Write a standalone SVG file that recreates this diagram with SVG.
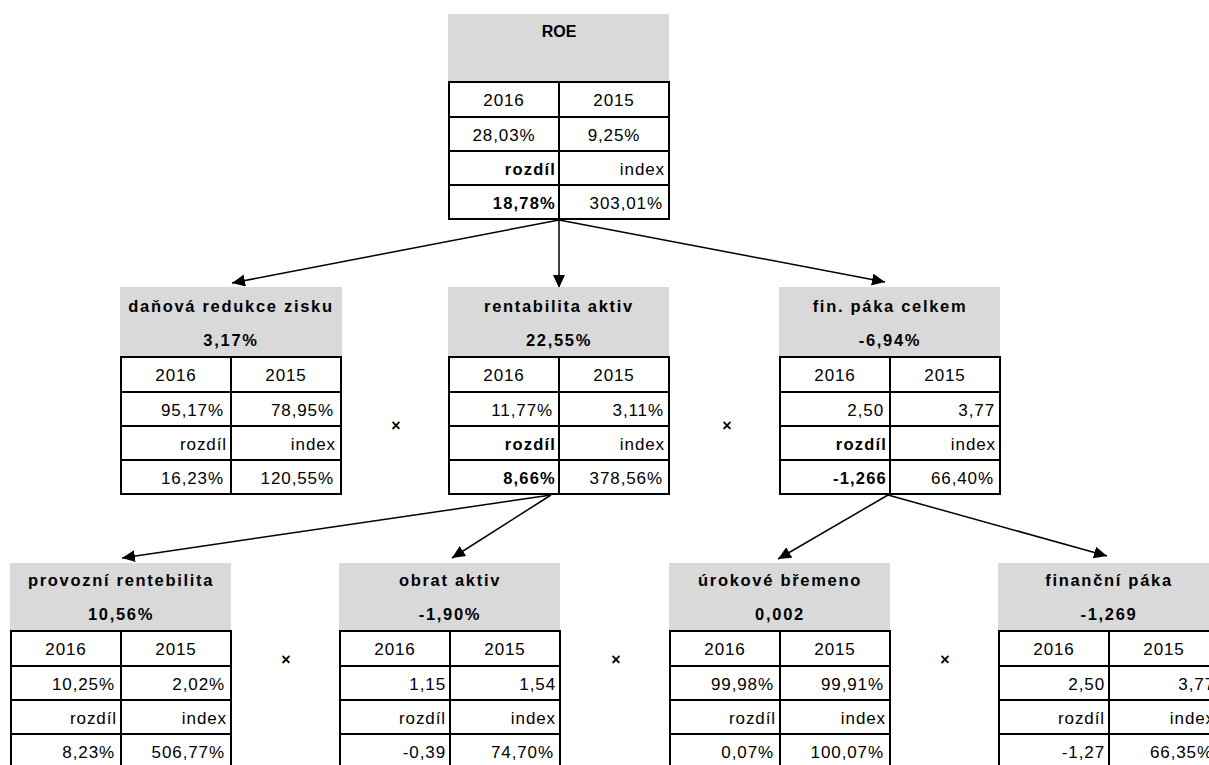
<svg xmlns="http://www.w3.org/2000/svg" width="1209" height="765" viewBox="0 0 1209 765">
  <defs>
    <style>
      .hdr { fill: #d9d9d9; }
      .grid { fill: #ffffff; stroke: #000000; stroke-width: 2; }
      .ln { stroke: #000000; stroke-width: 2; }
      text { font-family: "Liberation Sans", Arial, sans-serif; font-size: 17px; fill: #000000; }
      .t { font-weight: bold; font-size: 16.5px; letter-spacing: 1.7px; text-anchor: middle; }
      .roe { font-weight: bold; font-size: 16px; text-anchor: middle; }
      .c { text-anchor: middle; letter-spacing: 0.9px; }
      .r { text-anchor: end; letter-spacing: 0.9px; }
      .b { font-weight: bold; font-size: 16.5px; letter-spacing: 1.2px; }
      .x { font-weight: bold; font-size: 16px; text-anchor: middle; }
      .arrow { stroke: #000000; stroke-width: 1.5; fill: none; marker-end: url(#head); }
    </style>
    <marker id="head" markerUnits="userSpaceOnUse" markerWidth="14" markerHeight="12" refX="13" refY="6" orient="auto">
      <path d="M0,0 L13,6 L0,12 Z" fill="#000000"/>
    </marker>
    <!-- table body: 2 columns x 4 rows -->
    <g id="tbl">
      <rect class="grid" x="0" y="0" width="220" height="137"/>
      <line class="ln" x1="110" y1="0" x2="110" y2="137"/>
      <line class="ln" x1="0" y1="35" x2="220" y2="35"/>
      <line class="ln" x1="0" y1="69" x2="220" y2="69"/>
      <line class="ln" x1="0" y1="103" x2="220" y2="103"/>
    </g>
  </defs>

  <rect width="1209" height="765" fill="#ffffff"/>

  <!-- connectors -->
  <g id="connectors">
    <line class="arrow" x1="559" y1="220" x2="232" y2="283"/>
    <line class="arrow" x1="559" y1="220" x2="559" y2="288"/>
    <line class="arrow" x1="559" y1="220" x2="885" y2="282"/>
    <line class="arrow" x1="551" y1="495" x2="122" y2="558"/>
    <line class="arrow" x1="551" y1="495" x2="452" y2="558"/>
    <line class="arrow" x1="888" y1="495" x2="778" y2="559"/>
    <line class="arrow" x1="888" y1="495" x2="1107" y2="556"/>
  </g>

  <!-- ROE -->
  <g id="node-roe" transform="translate(449,82)">
    <rect class="hdr" x="-1" y="-68" width="221" height="68"/>
    <text class="roe" x="110" y="-45">ROE</text>
    <use href="#tbl"/>
    <text class="c" x="55" y="24">2016</text>
    <text class="c" x="165" y="24">2015</text>
    <text class="c" x="55" y="58.5">28,03%</text>
    <text class="c" x="165" y="58.5">9,25%</text>
    <text class="r b" x="107" y="92.5">rozdíl</text>
    <text class="r" x="216" y="92.5">index</text>
    <text class="r b" x="107" y="126.5">18,78%</text>
    <text class="r" x="214" y="126.5">303,01%</text>
  </g>

  <!-- daňová redukce zisku -->
  <g id="node-danova" transform="translate(121,357)">
    <rect class="hdr" x="-1" y="-70" width="222" height="70"/>
    <text class="t" x="110" y="-45">daňová redukce zisku</text>
    <text class="t" x="110" y="-11">3,17%</text>
    <use href="#tbl"/>
    <text class="c" x="55" y="24">2016</text>
    <text class="c" x="165" y="24">2015</text>
    <text class="r" x="103" y="58.5">95,17%</text>
    <text class="r" x="213" y="58.5">78,95%</text>
    <text class="r" x="106" y="92.5">rozdíl</text>
    <text class="r" x="215" y="92.5">index</text>
    <text class="r" x="103" y="126.5">16,23%</text>
    <text class="r" x="213" y="126.5">120,55%</text>
  </g>

  <!-- rentabilita aktiv -->
  <g id="node-rentabilita" transform="translate(449,357)">
    <rect class="hdr" x="-1" y="-70" width="221" height="70"/>
    <text class="t" x="110" y="-45">rentabilita aktiv</text>
    <text class="t" x="110" y="-11">22,55%</text>
    <use href="#tbl"/>
    <text class="c" x="55" y="24">2016</text>
    <text class="c" x="165" y="24">2015</text>
    <text class="r" x="104" y="58.5">11,77%</text>
    <text class="r" x="215" y="58.5">3,11%</text>
    <text class="r b" x="107" y="92.5">rozdíl</text>
    <text class="r" x="216" y="92.5">index</text>
    <text class="r b" x="107" y="126.5">8,66%</text>
    <text class="r" x="214" y="126.5">378,56%</text>
  </g>

  <!-- fin. páka celkem -->
  <g id="node-finpaka" transform="translate(780,357)">
    <rect class="hdr" x="-1" y="-70" width="221" height="70"/>
    <text class="t" x="110" y="-45">fin. páka celkem</text>
    <text class="t" x="110" y="-11">-6,94%</text>
    <use href="#tbl"/>
    <text class="c" x="55" y="24">2016</text>
    <text class="c" x="165" y="24">2015</text>
    <text class="r" x="104" y="58.5">2,50</text>
    <text class="r" x="215" y="58.5">3,77</text>
    <text class="r b" x="107" y="92.5">rozdíl</text>
    <text class="r" x="216" y="92.5">index</text>
    <text class="r b" x="107" y="126.5">-1,266</text>
    <text class="r" x="214" y="126.5">66,40%</text>
  </g>

  <!-- provozní rentebilita -->
  <g id="node-provozni" transform="translate(11,631)">
    <rect class="hdr" x="-1" y="-68" width="221" height="68"/>
    <text class="t" x="110" y="-45">provozní rentebilita</text>
    <text class="t" x="110" y="-11">10,56%</text>
    <use href="#tbl"/>
    <text class="c" x="55" y="24">2016</text>
    <text class="c" x="165" y="24">2015</text>
    <text class="r" x="104" y="58.5">10,25%</text>
    <text class="r" x="214" y="58.5">2,02%</text>
    <text class="r" x="106" y="92.5">rozdíl</text>
    <text class="r" x="216" y="92.5">index</text>
    <text class="r" x="104" y="126.5">8,23%</text>
    <text class="r" x="214" y="126.5">506,77%</text>
  </g>

  <!-- obrat aktiv -->
  <g id="node-obrat" transform="translate(340,631)">
    <rect class="hdr" x="-1" y="-68" width="221" height="68"/>
    <text class="t" x="110" y="-45">obrat aktiv</text>
    <text class="t" x="110" y="-11">-1,90%</text>
    <use href="#tbl"/>
    <text class="c" x="55" y="24">2016</text>
    <text class="c" x="165" y="24">2015</text>
    <text class="r" x="106" y="58.5">1,15</text>
    <text class="r" x="216" y="58.5">1,54</text>
    <text class="r" x="106" y="92.5">rozdíl</text>
    <text class="r" x="216" y="92.5">index</text>
    <text class="r" x="106" y="126.5">-0,39</text>
    <text class="r" x="214" y="126.5">74,70%</text>
  </g>

  <!-- úrokové břemeno -->
  <g id="node-urokove" transform="translate(670,631)">
    <rect class="hdr" x="-1" y="-68" width="221" height="68"/>
    <text class="t" x="110" y="-45">úrokové břemeno</text>
    <text class="t" x="110" y="-11">0,002</text>
    <use href="#tbl"/>
    <text class="c" x="55" y="24">2016</text>
    <text class="c" x="165" y="24">2015</text>
    <text class="r" x="104" y="58.5">99,98%</text>
    <text class="r" x="214" y="58.5">99,91%</text>
    <text class="r" x="106" y="92.5">rozdíl</text>
    <text class="r" x="216" y="92.5">index</text>
    <text class="r" x="104" y="126.5">0,07%</text>
    <text class="r" x="214" y="126.5">100,07%</text>
  </g>

  <!-- finanční páka (runs past the right edge of the sheet) -->
  <g id="node-financni" transform="translate(999,631)">
    <rect class="hdr" x="-1" y="-68" width="221" height="68"/>
    <text class="t" x="110" y="-45">finanční páka</text>
    <text class="t" x="110" y="-11">-1,269</text>
    <use href="#tbl"/>
    <text class="c" x="55" y="24">2016</text>
    <text class="c" x="165" y="24">2015</text>
    <text class="r" x="106" y="58.5">2,50</text>
    <text class="r" x="216" y="58.5">3,77</text>
    <text class="r" x="106" y="92.5">rozdíl</text>
    <text class="r" x="216" y="92.5">index</text>
    <text class="r" x="106" y="126.5">-1,27</text>
    <text class="r" x="214" y="126.5">66,35%</text>
  </g>

  <!-- multiplication signs between factors -->
  <g id="operators">
    <text class="x" x="396" y="431">×</text>
    <text class="x" x="727" y="431">×</text>
    <text class="x" x="286" y="665">×</text>
    <text class="x" x="616" y="665">×</text>
    <text class="x" x="945" y="665">×</text>
  </g>
</svg>
